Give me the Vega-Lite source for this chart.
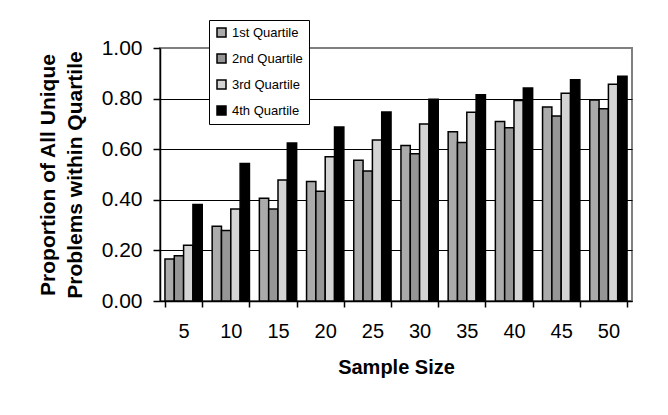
{
  "$schema": "https://vega.github.io/schema/vega-lite/v6.json",
  "width": 472,
  "height": 253,
  "autosize": "none",
  "padding": {"left": 160, "top": 48, "right": 36, "bottom": 114},
  "background": "white",
  "data": {
    "values": [
      {"size": 5, "q": "1st Quartile", "value": 0.166},
      {"size": 5, "q": "2nd Quartile", "value": 0.179},
      {"size": 5, "q": "3rd Quartile", "value": 0.220},
      {"size": 5, "q": "4th Quartile", "value": 0.381},
      {"size": 10, "q": "1st Quartile", "value": 0.295},
      {"size": 10, "q": "2nd Quartile", "value": 0.279},
      {"size": 10, "q": "3rd Quartile", "value": 0.364},
      {"size": 10, "q": "4th Quartile", "value": 0.543},
      {"size": 15, "q": "1st Quartile", "value": 0.406},
      {"size": 15, "q": "2nd Quartile", "value": 0.364},
      {"size": 15, "q": "3rd Quartile", "value": 0.478},
      {"size": 15, "q": "4th Quartile", "value": 0.625},
      {"size": 20, "q": "1st Quartile", "value": 0.472},
      {"size": 20, "q": "2nd Quartile", "value": 0.434},
      {"size": 20, "q": "3rd Quartile", "value": 0.570},
      {"size": 20, "q": "4th Quartile", "value": 0.688},
      {"size": 25, "q": "1st Quartile", "value": 0.556},
      {"size": 25, "q": "2nd Quartile", "value": 0.514},
      {"size": 25, "q": "3rd Quartile", "value": 0.636},
      {"size": 25, "q": "4th Quartile", "value": 0.747},
      {"size": 30, "q": "1st Quartile", "value": 0.615},
      {"size": 30, "q": "2nd Quartile", "value": 0.582},
      {"size": 30, "q": "3rd Quartile", "value": 0.700},
      {"size": 30, "q": "4th Quartile", "value": 0.797},
      {"size": 35, "q": "1st Quartile", "value": 0.669},
      {"size": 35, "q": "2nd Quartile", "value": 0.626},
      {"size": 35, "q": "3rd Quartile", "value": 0.746},
      {"size": 35, "q": "4th Quartile", "value": 0.815},
      {"size": 40, "q": "1st Quartile", "value": 0.709},
      {"size": 40, "q": "2nd Quartile", "value": 0.685},
      {"size": 40, "q": "3rd Quartile", "value": 0.792},
      {"size": 40, "q": "4th Quartile", "value": 0.842},
      {"size": 45, "q": "1st Quartile", "value": 0.767},
      {"size": 45, "q": "2nd Quartile", "value": 0.731},
      {"size": 45, "q": "3rd Quartile", "value": 0.821},
      {"size": 45, "q": "4th Quartile", "value": 0.875},
      {"size": 50, "q": "1st Quartile", "value": 0.794},
      {"size": 50, "q": "2nd Quartile", "value": 0.760},
      {"size": 50, "q": "3rd Quartile", "value": 0.857},
      {"size": 50, "q": "4th Quartile", "value": 0.888}
    ]
  },
  "mark": {"type": "bar", "stroke": "black", "strokeWidth": 1.5},
  "encoding": {
    "x": {
      "field": "size",
      "type": "ordinal",
      "sort": [5, 10, 15, 20, 25, 30, 35, 40, 45, 50],
      "scale": {"paddingInner": 0.21, "paddingOuter": 0.105},
      "axis": {
        "labelAngle": 0,
        "labelFontSize": 20,
        "labelPadding": 14,
        "tickSize": 6,
        "tickBand": "extent",
        "tickColor": "black",
        "tickWidth": 1.5,
        "domainColor": "black",
        "domainWidth": 1.5,
        "title": "Sample Size",
        "titleFontSize": 20,
        "titleFontWeight": "bold",
        "titlePadding": 16,
        "grid": false
      }
    },
    "xOffset": {
      "field": "q",
      "type": "nominal",
      "sort": ["1st Quartile", "2nd Quartile", "3rd Quartile", "4th Quartile"],
      "scale": {"paddingInner": 0, "paddingOuter": 0}
    },
    "y": {
      "field": "value",
      "type": "quantitative",
      "scale": {"domain": [0, 1], "nice": false},
      "axis": {
        "values": [0, 0.2, 0.4, 0.6, 0.8, 1.0],
        "format": ".2f",
        "labelFontSize": 21,
        "labelPadding": 11,
        "tickSize": 7,
        "tickColor": "black",
        "tickWidth": 1.5,
        "domainColor": "black",
        "domainWidth": 1.5,
        "grid": true,
        "gridColor": "black",
        "gridWidth": 1,
        "gridOpacity": {"condition": {"test": "datum.value >= 1", "value": 0}, "value": 1},
        "title": ["Proportion of All Unique", "Problems within Quartile"],
        "titleFontSize": 21,
        "titleFontWeight": "bold",
        "titleLineHeight": 27,
        "titlePadding": 16
      }
    },
    "fill": {
      "field": "q",
      "type": "nominal",
      "scale": {
        "domain": ["1st Quartile", "2nd Quartile", "3rd Quartile", "4th Quartile"],
        "range": ["#ababab", "#969696", "#d4d4d4", "#000000"]
      },
      "legend": {
        "title": null,
        "orient": "none",
        "legendX": 49,
        "legendY": -28,
        "strokeColor": "black",
        "fillColor": "white",
        "padding": 6,
        "rowPadding": 11,
        "symbolType": "square",
        "symbolSize": 81,
        "symbolStrokeColor": "black",
        "symbolStrokeWidth": 1.5,
        "labelFontSize": 13,
        "labelOffset": 4,
        "labelColor": "black"
      }
    }
  },
  "config": {
    "font": "Liberation Sans",
    "view": {"stroke": "#808080", "strokeWidth": 2},
    "axis": {"labelColor": "black", "titleColor": "black"}
  }
}
